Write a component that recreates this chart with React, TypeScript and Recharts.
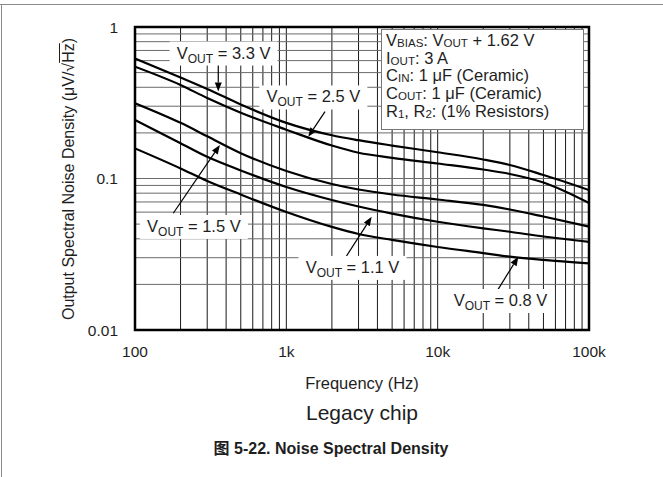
import React from 'react';
import { LineChart, Line, XAxis, YAxis, CartesianGrid, ReferenceArea, ReferenceLine, ReferenceDot } from 'recharts';

// frequency points (Hz)
const freq = [100, 200, 300, 500, 1000, 2000, 3000, 5000, 10000, 20000, 30000, 50000, 100000];

// noise density (uV/rtHz) per output voltage
const vout33 = [0.62, 0.464, 0.39, 0.308, 0.233, 0.193, 0.179, 0.165, 0.149, 0.1335, 0.1228, 0.1054, 0.0839];
const vout25 = [0.547, 0.414, 0.34, 0.272, 0.21, 0.165, 0.148, 0.137, 0.1256, 0.1147, 0.1071, 0.0941, 0.0689];
const vout15 = [0.314, 0.233, 0.19, 0.147, 0.1121, 0.092, 0.0846, 0.0784, 0.0727, 0.0669, 0.0624, 0.0561, 0.0481];
const vout11 = [0.243, 0.171, 0.139, 0.113, 0.0879, 0.0721, 0.0653, 0.0587, 0.0518, 0.0469, 0.0445, 0.0414, 0.0382];
const vout08 = [0.158, 0.1165, 0.0963, 0.0784, 0.0601, 0.0479, 0.043, 0.0393, 0.0353, 0.0322, 0.0305, 0.029, 0.0275];

const xDecades = [100, 1000, 10000, 100000];
const xDecadeLabels = ['100', '1k', '10k', '100k'];
const yDecades = [0.01, 0.1, 1];
const yDecadeLabels = ['0.01', '0.1', '1'];

// callouts: label text, label anchor, arrow from -> to (data units)
const callouts = [
  { text: '3.3 V', lx: 385, ly: 0.668, x1: 355, y1: 0.562, x2: 355, y2: 0.3745 },
  { text: '2.5 V', lx: 1508, ly: 0.3426, x1: 1801, y1: 0.2761, x2: 1397, y2: 0.1888 },
  { text: '1.5 V', lx: 245, ly: 0.0479, x1: 179, y1: 0.059, x2: 364, y2: 0.1664 },
  { text: '1.1 V', lx: 2737, ly: 0.02569, x1: 2442, y1: 0.02972, x2: 3665, y2: 0.0559 },
  { text: '0.8 V', lx: 26020, ly: 0.01554, x1: 24550, y1: 0.01791, x2: 34120, y2: 0.03045 },
];

const data = freq.map((f, i) => ({
  f,
  v33: vout33[i],
  v25: vout25[i],
  v15: vout15[i],
  v11: vout11[i],
  v08: vout08[i],
}));

const minorOf = (decades: number[]) => {
  const out: number[] = [];
  decades.forEach((d, i) => {
    if (i === decades.length - 1) { out.push(d); return; }
    for (let k = 1; k <= 9; k++) out.push(d * k);
  });
  return out;
};
const xTicks = minorOf(xDecades);
const yTicks = minorOf(yDecades);

const FONT = "'Liberation Sans', Arial, 'Noto Sans CJK SC', sans-serif";
const INK = '#1e1e1e';

const Arrow = (p: any) => {
  const { x1, y1, x2, y2 } = p;
  const dx = x2 - x1, dy = y2 - y1;
  const len = Math.sqrt(dx * dx + dy * dy) || 1;
  const ux = dx / len, uy = dy / len;
  const hl = 9, hw = 3.5;
  const bx = x2 - ux * hl, by = y2 - uy * hl;
  const pts = `${x2},${y2} ${bx - uy * hw},${by + ux * hw} ${bx + uy * hw},${by - ux * hw}`;
  return (
    <g>
      <line x1={x1} y1={y1} x2={bx} y2={by} stroke="#000" strokeWidth={1.2} />
      <polygon points={pts} fill="#000" />
    </g>
  );
};

const CalloutLabel = (p: any) => {
  const { cx, cy, text } = p;
  const w = 108, h = 24;
  return (
    <g>
      <rect x={cx - w / 2} y={cy - h / 2} width={w} height={h} fill="#fff" />
      <text x={cx} y={cy + 5} textAnchor="middle" fontSize={16.5} fill={INK} fontFamily={FONT}>
        V<tspan fontSize={12} dy={4}>OUT</tspan>
        <tspan dy={-4}>{` = ${text}`}</tspan>
      </text>
    </g>
  );
};

const Sub = ({ children }: { children: React.ReactNode }) => (
  <span style={{ fontSize: '0.7em', verticalAlign: '-0.12em', lineHeight: 0 }}>{children}</span>
);

export default function App() {
  return (
    <div style={{ position: 'relative', width: 663, height: 477, background: '#fff', fontFamily: FONT, color: INK }}>
      <style>{'body{margin:0}'}</style>
      {/* page frame */}
      <div style={{ position: 'absolute', left: 0, top: 4, width: 663, height: 1, background: '#8a8a8a' }} />
      <div style={{ position: 'absolute', left: 1, top: 4, width: 1, height: 473, background: '#8a8a8a' }} />

      <LineChart
        width={663}
        height={477}
        data={data}
        margin={{ top: 27, right: 74, bottom: 117, left: 75 }}
        style={{ position: 'absolute', left: 0, top: 0 }}
      >
        <CartesianGrid horizontal={false} stroke="#1a1a1a" strokeWidth={1} />
        <CartesianGrid vertical={false} stroke="#6a6a6a" strokeWidth={1} />
        <XAxis
          dataKey="f"
          type="number"
          scale="log"
          domain={[100, 100000]}
          allowDataOverflow
          ticks={xTicks}
          interval={0}
          axisLine={false}
          tickLine={false}
          tickSize={0}
          tickMargin={16}
          height={30}
          tick={{ fontSize: 15.5, fill: INK, fontFamily: FONT }}
          tickFormatter={(v: number) => {
            const i = xDecades.indexOf(v);
            return i >= 0 ? xDecadeLabels[i] : '';
          }}
        />
        <YAxis
          type="number"
          scale="log"
          domain={[0.01, 1]}
          allowDataOverflow
          ticks={yTicks}
          interval={0}
          axisLine={false}
          tickLine={false}
          tickSize={0}
          tickMargin={17}
          width={60}
          tick={{ fontSize: 15.5, fill: INK, fontFamily: FONT }}
          tickFormatter={(v: number) => {
            const i = yDecades.findIndex((d) => Math.abs(d - v) < 1e-9);
            return i >= 0 ? yDecadeLabels[i] : '';
          }}
        />
        <Line dataKey="v33" type="monotone" stroke="#000" strokeWidth={2.2} dot={false} isAnimationActive={false} />
        <Line dataKey="v25" type="monotone" stroke="#000" strokeWidth={2.2} dot={false} isAnimationActive={false} />
        <Line dataKey="v15" type="monotone" stroke="#000" strokeWidth={2.2} dot={false} isAnimationActive={false} />
        <Line dataKey="v11" type="monotone" stroke="#000" strokeWidth={2.2} dot={false} isAnimationActive={false} />
        <Line dataKey="v08" type="monotone" stroke="#000" strokeWidth={2.2} dot={false} isAnimationActive={false} />
        {callouts.map((c) => (
          <ReferenceDot
            key={'lbl' + c.text}
            x={c.lx}
            y={c.ly}
            r={0}
            ifOverflow="visible"
            shape={(p: any) => <CalloutLabel {...p} text={c.text} />}
          />
        ))}
        {callouts.map((c) => (
          <ReferenceLine
            key={'arr' + c.text}
            segment={[{ x: c.x1, y: c.y1 }, { x: c.x2, y: c.y2 }]}
            ifOverflow="visible"
            shape={(p: any) => <Arrow {...p} />}
          />
        ))}
        <ReferenceArea x1={100} x2={100000} y1={0.01} y2={1} fill="none" stroke="#000" strokeWidth={2.5} />
      </LineChart>

      {/* conditions box */}
      <div
        style={{
          position: 'absolute', left: 381, top: 29, width: 203, height: 101, boxSizing: 'border-box',
          border: '1px solid #777', background: '#fff', padding: '2px 0 0 4px', fontSize: 16.5, lineHeight: '17.7px',
          whiteSpace: 'nowrap',
        }}
      >
        <div>V<Sub>BIAS</Sub>: V<Sub>OUT</Sub> + 1.62 V</div>
        <div>I<Sub>OUT</Sub>: 3 A</div>
        <div>C<Sub>IN</Sub>: 1 μF (Ceramic)</div>
        <div>C<Sub>OUT</Sub>: 1 μF (Ceramic)</div>
        <div>R<Sub>1</Sub>, R<Sub>2</Sub>: (1% Resistors)</div>
      </div>

      {/* y axis title */}
      <div
        style={{
          position: 'absolute', left: 69 - 170, top: 179 - 10, width: 340, height: 20, lineHeight: '20px',
          textAlign: 'center', fontSize: 16, transform: 'rotate(-90deg)', whiteSpace: 'nowrap',
        }}
      >
        Output Spectral Noise Density (μV/√<span style={{ textDecoration: 'overline' }}>Hz</span>)
      </div>

      <div style={{ position: 'absolute', left: 262, width: 200, top: 374, textAlign: 'center', fontSize: 16.5 }}>
        Frequency (Hz)
      </div>
      <div style={{ position: 'absolute', left: 262, width: 200, top: 401, textAlign: 'center', fontSize: 21 }}>
        Legacy chip
      </div>
      <div style={{ position: 'absolute', left: 131, width: 400, top: 435, textAlign: 'center', fontSize: 16, fontWeight: 700 }}>
        图 5-22. Noise Spectral Density
      </div>
    </div>
  );
}
